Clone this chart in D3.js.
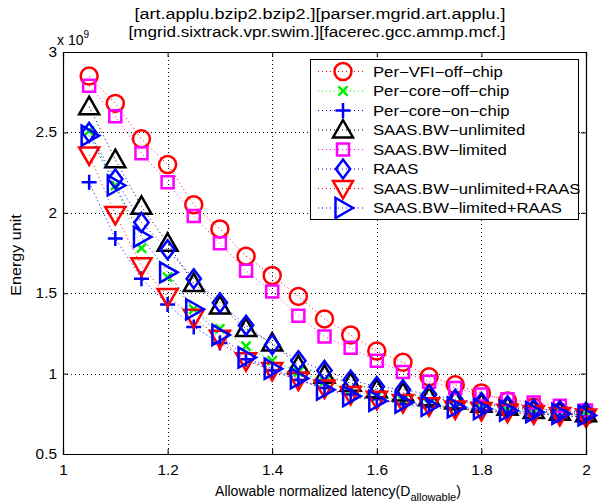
<!DOCTYPE html>
<html>
<head>
<meta charset="utf-8">
<script src="https://cdn.jsdelivr.net/npm/d3@7"></script>
<style>
  body { margin: 0; background: #fff; }
  text { font-family: "Liberation Sans", Arial, sans-serif; }
</style>
</head>
<body>
<svg id="chart"></svg>
<script>
const width = 599;
const height = 504;

const latency = [1.05, 1.1, 1.15, 1.2, 1.25, 1.3, 1.35, 1.4, 1.45, 1.5,
  1.55, 1.6, 1.65, 1.7, 1.75, 1.8, 1.85, 1.9, 1.95, 2.0];

const perVfiOffChip = [2.85, 2.68, 2.46, 2.30, 2.05, 1.90, 1.73, 1.61, 1.48, 1.34,
  1.24, 1.14, 1.07, 0.98, 0.93, 0.88, 0.83, 0.79, 0.76, 0.74];
const perCoreOffChip = [2.51, 2.17, 1.78, 1.60, 1.40, 1.28, 1.17, 1.08, 1.01, 0.95,
  0.90, 0.86, 0.83, 0.81, 0.79, 0.78, 0.77, 0.76, 0.75, 0.74];
const perCoreOnChip = [2.19, 1.84, 1.59, 1.43, 1.29, 1.19, 1.09, 1.02, 0.96, 0.91,
  0.87, 0.84, 0.81, 0.79, 0.78, 0.77, 0.76, 0.75, 0.74, 0.73];
const saasUnlimited = [2.66, 2.33, 2.04, 1.81, 1.56, 1.42, 1.28, 1.19, 1.05, 0.99,
  0.94, 0.90, 0.88, 0.85, 0.83, 0.81, 0.79, 0.77, 0.76, 0.75];
const saasLimited = [2.79, 2.60, 2.37, 2.19, 1.98, 1.81, 1.64, 1.51, 1.36, 1.23,
  1.16, 1.08, 1.01, 0.95, 0.91, 0.87, 0.84, 0.82, 0.80, 0.77];
const raas = [2.50, 2.21, 1.94, 1.77, 1.59, 1.44, 1.30, 1.18, 1.08, 1.02,
  0.96, 0.92, 0.90, 0.87, 0.84, 0.82, 0.80, 0.78, 0.77, 0.76];
const saasUnlimitedRaas = [2.36, 1.99, 1.67, 1.48, 1.35, 1.22, 1.08, 1.02, 0.96, 0.91,
  0.87, 0.84, 0.82, 0.80, 0.78, 0.77, 0.76, 0.75, 0.74, 0.73];
const saasLimitedRaas = [2.48, 2.17, 1.85, 1.63, 1.40, 1.24, 1.10, 1.03, 0.97, 0.90,
  0.86, 0.83, 0.82, 0.80, 0.79, 0.78, 0.77, 0.76, 0.75, 0.74];

const seriesNames = ["Per\u2212VFI\u2212off\u2212chip", "Per\u2212core\u2212off\u2212chip",
  "Per\u2212core\u2212on\u2212chip", "SAAS.BW\u2212unlimited", "SAAS.BW\u2212limited", "RAAS",
  "SAAS.BW\u2212unlimited+RAAS", "SAAS.BW\u2212limited+RAAS"];
const seriesValues = [perVfiOffChip, perCoreOffChip, perCoreOnChip, saasUnlimited,
  saasLimited, raas, saasUnlimitedRaas, saasLimitedRaas];
const seriesColors = ["#ff0000", "#00ee00", "#0000ff", "#000000", "#ff00ff", "#0000ff", "#ff0000", "#0000ff"];
const seriesMarkers = ["circle", "x", "plus", "up", "square", "diamond", "down", "right"];

const xTicks = [1, 1.2, 1.4, 1.6, 1.8, 2];
const yTicks = [0.5, 1, 1.5, 2, 2.5, 3];

const margin = { left: 63, right: 13, top: 52, bottom: 50 };

const svg = d3.select("#chart").attr("width", width).attr("height", height);

const x = d3.scaleLinear().domain([1, 2]).range([margin.left, width - margin.right]);
const y = d3.scaleLinear().domain([0.5, 3]).range([height - margin.bottom, margin.top]);

// stretch text horizontally, the original font is wider than Arial
function stretch(sel, factor) {
  sel.each(function () {
    const len = this.getComputedTextLength();
    d3.select(this).attr("textLength", len * factor).attr("lengthAdjust", "spacingAndGlyphs");
  });
}

// grid
const grid = svg.append("g").attr("stroke", "#000").attr("stroke-width", 1)
  .attr("stroke-dasharray", "1,3");
grid.selectAll(".gx").data(xTicks.slice(1, -1)).enter().append("line")
  .attr("x1", (d) => Math.round(x(d)) + 0.5).attr("x2", (d) => Math.round(x(d)) + 0.5)
  .attr("y1", y(3)).attr("y2", y(0.5));
grid.selectAll(".gy").data(yTicks.slice(1, -1)).enter().append("line")
  .attr("y1", (d) => Math.round(y(d)) + 0.5).attr("y2", (d) => Math.round(y(d)) + 0.5)
  .attr("x1", x(1)).attr("x2", x(2));

// series
function markerPath(type, s) {
  const h = s / 2;
  switch (type) {
    case "circle":
      return `M${h},0A${h},${h} 0 1,1 ${-h},0A${h},${h} 0 1,1 ${h},0Z`;
    case "x":
      return `M${-h * 0.7},${-h * 0.7}L${h * 0.7},${h * 0.7}M${-h * 0.7},${h * 0.7}L${h * 0.7},${-h * 0.7}`;
    case "plus":
      return `M${-h},0L${h},0M0,${-h}L0,${h}`;
    case "square":
      return `M${-h * 0.8},${-h * 0.8}H${h * 0.8}V${h * 0.8}H${-h * 0.8}Z`;
    case "diamond":
      return `M0,${-h}L${h * 0.75},0L0,${h}L${-h * 0.75},0Z`;
    case "up":
      return `M0,${-h}L${h},${h * 0.75}L${-h},${h * 0.75}Z`;
    case "down":
      return `M0,${h}L${h},${-h * 0.75}L${-h},${-h * 0.75}Z`;
    case "right":
      return `M${h},0L${-h * 0.75},${h}L${-h * 0.75},${-h}Z`;
  }
}
const markerSize = { circle: 17, x: 13, plus: 15, square: 15, diamond: 19, up: 20, down: 20, right: 20 };

const line = d3.line().x((d) => x(d[0])).y((d) => y(d[1]));

seriesValues.forEach((vals, i) => {
  const pts = latency.map((l, j) => [l, vals[j]]);
  const g = svg.append("g");
  g.append("path").datum(pts).attr("d", line).attr("fill", "none")
    .attr("stroke", seriesColors[i]).attr("stroke-width", 1)
    .attr("stroke-dasharray", "1,3");
  g.selectAll("path.m").data(pts).enter().append("path").attr("class", "m")
    .attr("transform", (d) => `translate(${x(d[0])},${y(d[1])})`)
    .attr("d", markerPath(seriesMarkers[i], markerSize[seriesMarkers[i]]))
    .attr("fill", "none").attr("stroke", seriesColors[i]).attr("stroke-width", 2.5);
});

// axes
const axisFont = "14px";
const axBottom = svg.append("g").attr("transform", `translate(0,${y(0.5)})`)
  .call(d3.axisBottom(x).tickValues(xTicks).tickSize(-5).tickPadding(8).tickFormat(d3.format("")));
const axLeft = svg.append("g").attr("transform", `translate(${x(1)},0)`)
  .call(d3.axisLeft(y).tickValues(yTicks).tickSize(-5).tickPadding(6).tickFormat(d3.format("")));
const axTop = svg.append("g").attr("transform", `translate(0,${y(3)})`)
  .call(d3.axisTop(x).tickValues(xTicks).tickSize(-5).tickFormat(""));
const axRight = svg.append("g").attr("transform", `translate(${x(2)},0)`)
  .call(d3.axisRight(y).tickValues(yTicks).tickSize(-5).tickFormat(""));
[axBottom, axLeft, axTop, axRight].forEach((a) => {
  a.selectAll("text").attr("font-size", axisFont).attr("fill", "#000")
    .attr("font-family", "Liberation Sans, Arial, sans-serif");
  a.selectAll("line, path").attr("stroke", "#000");
  a.select(".domain").attr("stroke-width", 1.2);
});
axBottom.selectAll("text").attr("dy", "0.9em");
stretch(axBottom.selectAll("text"), 1.1);
stretch(axLeft.selectAll("text"), 1.1);

// exponent
const expo = svg.append("text").attr("x", 57).attr("y", 45).attr("font-size", "14px");
expo.append("tspan").text("x 10");
expo.append("tspan").attr("dy", -7).attr("font-size", "10px").text("9");

// title
svg.append("text").attr("x", 320).attr("y", 19).attr("text-anchor", "middle")
  .attr("font-size", "14px").attr("textLength", 371).attr("lengthAdjust", "spacingAndGlyphs")
  .text("[art.applu.bzip2.bzip2.][parser.mgrid.art.applu.]");
svg.append("text").attr("x", 317).attr("y", 37).attr("text-anchor", "middle")
  .attr("font-size", "14px").attr("textLength", 377).attr("lengthAdjust", "spacingAndGlyphs")
  .text("[mgrid.sixtrack.vpr.swim.][facerec.gcc.ammp.mcf.]");

// axis labels
const yl = svg.append("text").attr("transform", `translate(21,255) rotate(-90)`)
  .attr("text-anchor", "middle").attr("font-size", "14px").text("Energy unit");
stretch(yl, 1.15);
const xl = svg.append("text").attr("x", 338).attr("y", 496).attr("text-anchor", "middle")
  .attr("font-size", "14px");
xl.append("tspan").text("Allowable normalized latency(D");
xl.append("tspan").attr("dy", 5).attr("font-size", "11px").text("allowable");
xl.append("tspan").attr("dy", -5).text(")");

// legend
const legend = svg.append("g");
legend.append("rect").attr("x", 310.5).attr("y", 59.5).attr("width", 268).attr("height", 160)
  .attr("fill", "#fff").attr("stroke", "#000").attr("stroke-width", 1);
seriesNames.forEach((name, i) => {
  const ly = 71.5 + i * 19.5;
  legend.append("line").attr("x1", 318).attr("x2", 366).attr("y1", ly).attr("y2", ly)
    .attr("stroke", seriesColors[i]).attr("stroke-width", 1).attr("stroke-dasharray", "1,3");
  legend.append("path").attr("transform", `translate(343,${ly})`)
    .attr("d", markerPath(seriesMarkers[i], markerSize[seriesMarkers[i]]))
    .attr("fill", "none").attr("stroke", seriesColors[i]).attr("stroke-width", 2.5);
  const t = legend.append("text").attr("x", 373).attr("y", ly + 5).attr("font-size", "14px").text(name);
  stretch(t, 1.19);
});
</script>
</body>
</html>
